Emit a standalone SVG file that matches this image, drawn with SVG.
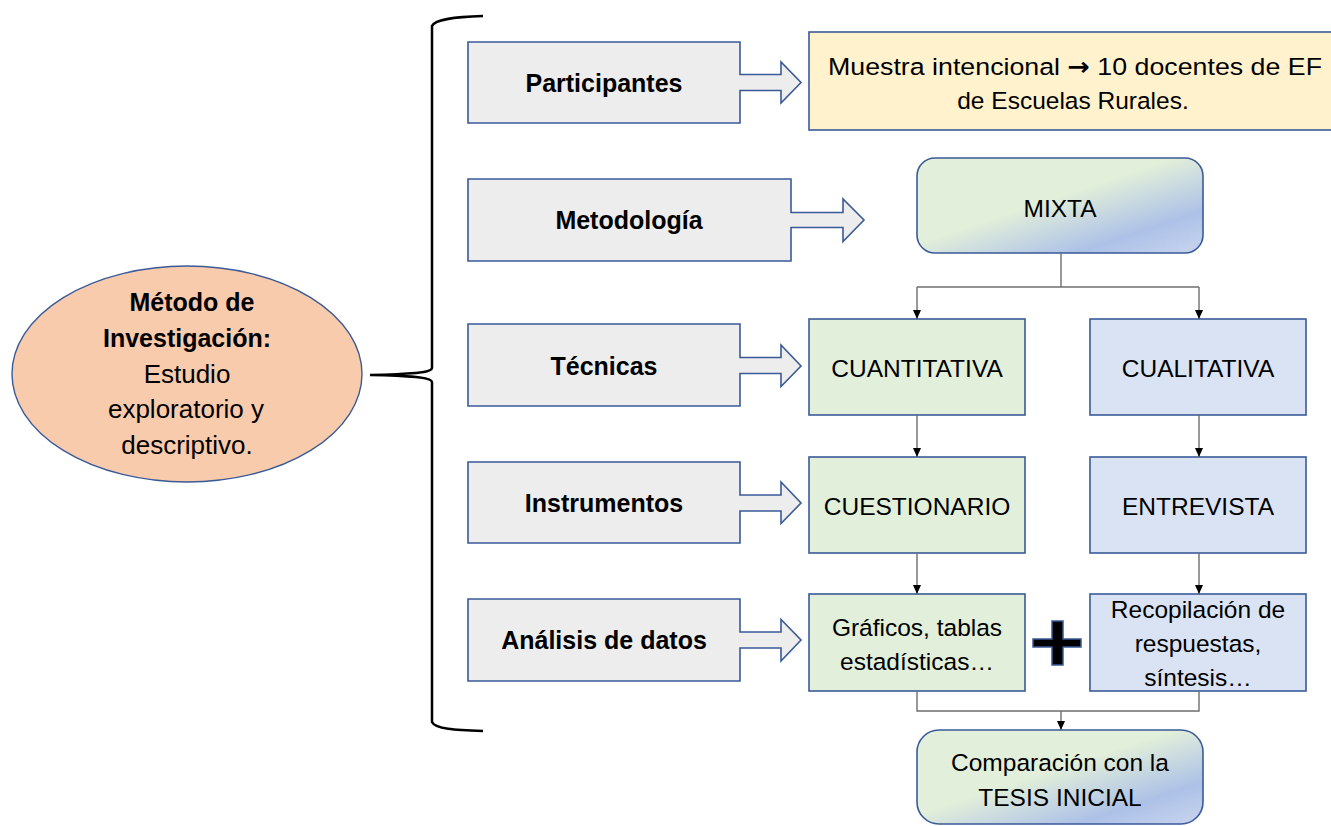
<svg xmlns="http://www.w3.org/2000/svg" width="1331" height="826" viewBox="0 0 1331 826">
<defs>
<linearGradient id="grad" x1="0" y1="0" x2="1" y2="1">
<stop offset="0" stop-color="#E2EFDA"/>
<stop offset="0.45" stop-color="#E2EFDA"/>
<stop offset="0.78" stop-color="#ADC1E7"/>
<stop offset="1" stop-color="#C9D5EF"/>
</linearGradient>
<marker id="ah" markerWidth="10" markerHeight="10" refX="9" refY="5" orient="auto" markerUnits="userSpaceOnUse">
<path d="M0,1 L9,5 L0,9 Z" fill="#000"/>
</marker>
<style>
.lb{fill:#EDEDED;stroke:#3A5A98;stroke-width:1.6}
.g{fill:#E2EFDA;stroke:#3A5A98;stroke-width:1.6}
.b{fill:#DAE3F3;stroke:#3A5A98;stroke-width:1.6}
.rg{fill:url(#grad);stroke:#3A5A98;stroke-width:1.6}
.t{font-family:"Liberation Sans",Arial,sans-serif;font-size:24.5px;fill:#000;text-anchor:middle}
.te{font-family:"Liberation Sans",Arial,sans-serif;font-size:26px;fill:#000;text-anchor:middle}
.tb{font-family:"Liberation Sans",Arial,sans-serif;font-size:25px;font-weight:bold;fill:#000;text-anchor:middle}
.c{fill:none;stroke:#6E6E6E;stroke-width:1.4}
</style>
</defs>

<g id="brace">
<path d="M483,16 C455,17 435,19 432,26 V368 C432,372 420,374 370,375 C420,376 432,378 432,382 V722 C435,729 455,730 483,731" fill="none" stroke="#000" stroke-width="2.5"/>
</g>

<g id="metodo">
<ellipse cx="187" cy="374" rx="175" ry="108" fill="#F8CBAD" stroke="#3A5A98" stroke-width="1.4"/>
<text class="tb" x="192" y="311">Método de</text>
<text class="tb" x="187" y="347">Investigación:</text>
<text class="te" x="187" y="383">Estudio</text>
<text class="te" x="186" y="418">exploratorio y</text>
<text class="te" x="187" y="454">descriptivo.</text>
</g>

<g id="participantes">
<path class="lb" d="M468,42 H740 V74.5 H781 V62 L801,82.5 L781,103 V90.5 H740 V123 H468 Z"/>
<text class="tb" x="604" y="92">Participantes</text>
</g>
<g id="metodologia">
<path class="lb" d="M468,179 H791 V212.5 H843 V199 L864,220 L843,241.5 V227.5 H791 V261 H468 Z"/>
<text class="tb" x="629" y="229">Metodología</text>
</g>
<g id="tecnicas">
<path class="lb" d="M468,324 H740 V357.5 H781 V345 L801,366 L781,386.5 V373.5 H740 V406 H468 Z"/>
<text class="tb" x="604" y="375">Técnicas</text>
</g>
<g id="instrumentos">
<path class="lb" d="M468,462 H740 V495 H781 V482 L801,503 L781,523.5 V511 H740 V543 H468 Z"/>
<text class="tb" x="604" y="512">Instrumentos</text>
</g>
<g id="analisis">
<path class="lb" d="M468,599 H740 V632 H781 V619.5 L801,640 L781,661 V648 H740 V681 H468 Z"/>
<text class="tb" x="604" y="649">Análisis de datos</text>
</g>

<g id="muestra">
<rect x="809" y="32" width="530" height="98" fill="#FFF2CC" stroke="#3A5A98" stroke-width="1.6"/>
<text class="t" x="1075" y="75" textLength="494" lengthAdjust="spacingAndGlyphs">Muestra intencional <tspan font-weight="bold" font-family="DejaVu Sans, sans-serif">→</tspan> 10 docentes de EF</text>
<text class="t" x="1073" y="109">de Escuelas Rurales.</text>
</g>

<g id="mixta">
<rect class="rg" x="917" y="158" width="286" height="95" rx="18"/>
<text class="t" x="1060" y="217">MIXTA</text>
</g>

<g id="cuantitativa">
<rect class="g" x="809" y="319" width="216" height="96"/>
<text class="t" x="917" y="377">CUANTITATIVA</text>
</g>
<g id="cualitativa">
<rect class="b" x="1090" y="319" width="216" height="96"/>
<text class="t" x="1198" y="377">CUALITATIVA</text>
</g>
<g id="cuestionario">
<rect class="g" x="809" y="457" width="216" height="96"/>
<text class="t" x="917" y="515">CUESTIONARIO</text>
</g>
<g id="entrevista">
<rect class="b" x="1090" y="457" width="216" height="96"/>
<text class="t" x="1198" y="515">ENTREVISTA</text>
</g>
<g id="graficos">
<rect class="g" x="809" y="594" width="216" height="97"/>
<text class="t" x="917" y="636">Gráficos, tablas</text>
<text class="t" x="917" y="670">estadísticas…</text>
</g>
<g id="recopilacion">
<rect class="b" x="1090" y="594" width="216" height="97"/>
<text class="t" x="1198" y="618">Recopilación de</text>
<text class="t" x="1198" y="652">respuestas,</text>
<text class="t" x="1198" y="686">síntesis…</text>
</g>
<g id="plus">
<path d="M1052,621 H1063 V639 H1081 V647 H1063 V665 H1052 V647 H1033 V639 H1052 Z" fill="#000" stroke="#3A5A98" stroke-width="1.5"/>
</g>
<g id="comparacion">
<rect class="rg" x="917" y="730" width="286" height="94" rx="22"/>
<text class="t" x="1060" y="771">Comparación con la</text>
<text class="t" x="1060" y="806">TESIS INICIAL</text>
</g>

<g id="connectors">
<path class="c" d="M1061,253 V287"/>
<path class="c" d="M917,287 H1199"/>
<path class="c" d="M917,287 V319" marker-end="url(#ah)"/>
<path class="c" d="M1199,287 V319" marker-end="url(#ah)"/>
<path class="c" d="M917,415 V457" marker-end="url(#ah)"/>
<path class="c" d="M1199,415 V457" marker-end="url(#ah)"/>
<path class="c" d="M917,553 V594" marker-end="url(#ah)"/>
<path class="c" d="M1199,553 V594" marker-end="url(#ah)"/>
<path class="c" d="M917,691 V711 H1199 V691"/>
<path class="c" d="M1061,711 V730" marker-end="url(#ah)"/>
</g>
</svg>
